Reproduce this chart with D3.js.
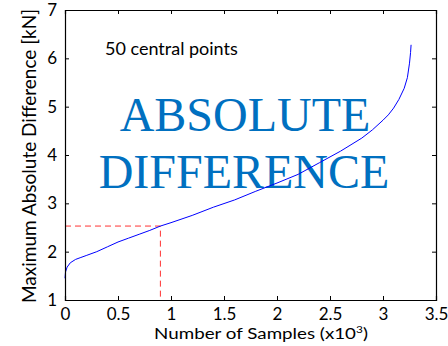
<!DOCTYPE html>
<html>
<head>
<meta charset="utf-8">
<script src="https://cdn.jsdelivr.net/npm/d3@7"></script>
<style>
  body { margin: 0; background: #fff; }
  svg { display: block; }
  .sans { font-family: Lato, "Open Sans", sans-serif; }
  .serif { font-family: "Liberation Serif", "Times New Roman", serif; }
</style>
</head>
<body>
<div id="chart"></div>
<script>
// samples (x10^3) and max absolute difference (kN)
var samples = [0, 0.005, 0.02, 0.05, 0.1, 0.15, 0.2, 0.3, 0.4, 0.5, 0.6, 0.7, 0.8, 0.9, 1.0,
               1.2, 1.4, 1.6, 1.8, 2.0, 2.2, 2.4, 2.6, 2.8, 2.9, 3.0, 3.05, 3.1, 3.15, 3.2,
               3.23, 3.25, 3.26, 3.265];
var maxDiff = [1.45, 1.58, 1.68, 1.77, 1.84, 1.88, 1.92, 2.0, 2.1, 2.2, 2.28, 2.36, 2.44, 2.53, 2.6,
               2.75, 2.92, 3.07, 3.25, 3.42, 3.6, 3.84, 4.08, 4.35, 4.52, 4.72, 4.83, 4.97, 5.15, 5.38,
               5.6, 5.9, 6.12, 6.28];
var xTicks = [0, 0.5, 1, 1.5, 2, 2.5, 3, 3.5];
var xTickLabels = ["0", "0.5", "1", "1.5", "2", "2.5", "3", "3.5"];
var yTicks = [1, 2, 3, 4, 5, 6, 7];
var marker = [0.9, 2.53];   // dashed guide point

var W = 448, H = 346;
var m = {left: 65, right: 12, top: 10, bottom: 46};

var svg = d3.select("#chart").append("svg")
    .attr("width", W).attr("height", H);

var x = d3.scaleLinear().domain([0, 3.5]).range([m.left, W - m.right]);
var y = d3.scaleLinear().domain([1, 7]).range([H - m.bottom, m.top]);

// annotation text first, curve drawn on top of it
svg.append("text")
    .attr("class", "sans")
    .attr("x", 105).attr("y", 55)
    .attr("font-size", 18)
    .text("50 central points");

var big = svg.append("g")
    .attr("fill", "#0070c0")
    .attr("text-anchor", "middle")
    .attr("font-size", 48);
big.append("text").attr("class", "serif").attr("x", 245).attr("y", 131).text("ABSOLUTE");
big.append("text").attr("class", "serif").attr("x", 244).attr("y", 188).text("DIFFERENCE");

// dashed guides
svg.append("path")
    .attr("d", "M" + x(0) + "," + y(marker[1]) + "H" + x(marker[0]) + "V" + y(1))
    .attr("fill", "none")
    .attr("stroke", "#ff3333")
    .attr("stroke-width", 1)
    .attr("stroke-dasharray", "6,4");

var line = d3.line()
    .x(function (d, i) { return x(samples[i]); })
    .y(function (d) { return y(d); });

svg.append("path")
    .datum(maxDiff)
    .attr("d", line)
    .attr("fill", "none")
    .attr("stroke", "#0000ff")
    .attr("stroke-width", 1);

// axes with inward ticks, MATLAB style box
var xAxis = svg.append("g")
    .attr("transform", "translate(0," + y(1) + ")")
    .call(d3.axisBottom(x).tickValues(xTicks).tickSize(-4).tickPadding(8)
        .tickFormat(function (d, i) { return xTickLabels[i]; }));
var xTop = svg.append("g")
    .attr("transform", "translate(0," + y(7) + ")")
    .call(d3.axisTop(x).tickValues(xTicks).tickSize(-4).tickFormat(""));
var yAxis = svg.append("g")
    .attr("transform", "translate(" + x(0) + ",0)")
    .call(d3.axisLeft(y).tickValues(yTicks).tickSize(-4).tickPadding(8)
        .tickFormat(d3.format("d")));
var yRight = svg.append("g")
    .attr("transform", "translate(" + x(3.5) + ",0)")
    .call(d3.axisRight(y).tickValues(yTicks).tickSize(-4).tickFormat(""));

[xAxis, xTop, yAxis, yRight].forEach(function (g) {
    g.select(".domain").attr("stroke", "#000").attr("stroke-width", 1.2);
    g.selectAll(".tick line").attr("stroke", "#000");
    g.selectAll("text").attr("class", "sans").attr("font-size", 17).attr("fill", "#000");
});

// x title: the source picture is stretched sideways, so widen the text to fit
var xtG = svg.append("g");
var xt = xtG.append("text")
    .attr("class", "sans")
    .attr("x", 0).attr("y", 0)
    .attr("text-anchor", "middle")
    .attr("font-size", 15);
xt.append("tspan").text("Number of Samples (x10");
xt.append("tspan").attr("font-size", 9.5).attr("dy", -6).text("3");
xt.append("tspan").attr("dy", 6).text(")");
var xtW = xt.node().getBBox().width;
xtG.attr("transform", "translate(261,339) scale(" + (214 / xtW) + ",1)");

svg.append("text")
    .attr("class", "sans")
    .attr("transform", "translate(36,156) rotate(-90)")
    .attr("text-anchor", "middle")
    .attr("font-size", 19)
    .text("Maximum Absolute Difference [kN]");
</script>
</body>
</html>
